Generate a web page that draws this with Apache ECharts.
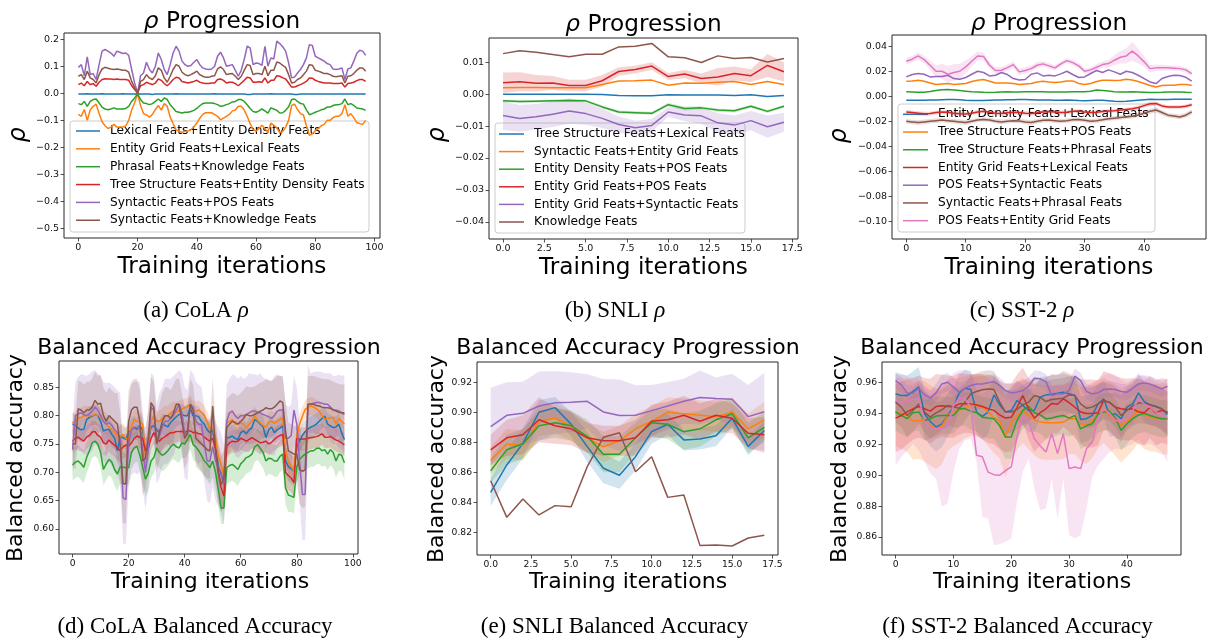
<!DOCTYPE html>
<html><head><meta charset="utf-8">
<script src="https://cdn.jsdelivr.net/npm/echarts@6/dist/echarts.min.js"></script>
<style>html,body{margin:0;padding:0;background:#fff}#c{width:1215px;height:641px}</style>
</head><body><div id="c"></div>
<script>
// ---------- categories / names ----------
const namesA = ['Lexical Feats+Entity Density Feats','Entity Grid Feats+Lexical Feats','Phrasal Feats+Knowledge Feats','Tree Structure Feats+Entity Density Feats','Syntactic Feats+POS Feats','Syntactic Feats+Knowledge Feats'];
const namesB = ['Tree Structure Feats+Lexical Feats','Syntactic Feats+Entity Grid Feats','Entity Density Feats+POS Feats','Entity Grid Feats+POS Feats','Entity Grid Feats+Syntactic Feats','Knowledge Feats'];
const namesC = ['Entity Density Feats+Lexical Feats','Tree Structure Feats+POS Feats','Tree Structure Feats+Phrasal Feats','Entity Grid Feats+Lexical Feats','POS Feats+Syntactic Feats','Syntactic Feats+Phrasal Feats','POS Feats+Entity Grid Feats'];

// ---------- tick labels ----------
const xTicksCoLA = [0,20,40,60,80,100];
const xTicksSNLI = [0,2.5,5,7.5,10,12.5,15,17.5];
const xTicksSST = [0,10,20,30,40];
const yTicksA = [-0.5,-0.4,-0.3,-0.2,-0.1,0,0.1,0.2];
const yTicksB = [-0.04,-0.03,-0.02,-0.01,0,0.01];
const yTicksC = [-0.10,-0.08,-0.06,-0.04,-0.02,0,0.02,0.04];
const yTicksD = [0.60,0.65,0.70,0.75,0.80,0.85];
const yTicksE = [0.82,0.84,0.86,0.88,0.90,0.92];
const yTicksF = [0.86,0.88,0.90,0.92,0.94,0.96];

// ---------- (a) CoLA rho ----------
const aBlue = [-0.003,-0.003,-0.003,-0.002,-0.003,-0.003,-0.003,-0.003,-0.002,-0.003,
-0.003,-0.003,-0.003,-0.003,-0.003,-0.002,-0.003,-0.003,-0.003,-0.003,
-0.002,-0.003,-0.003,-0.003,-0.003,-0.004,-0.003,-0.003,-0.003,-0.003,
-0.003,-0.003,-0.003,-0.002,-0.003,-0.003,-0.003,-0.003,-0.003,-0.003,
-0.003,-0.003,-0.003,-0.003,-0.003,-0.003,-0.002,-0.003,-0.003,-0.003,
-0.003,-0.003,-0.003,-0.003,-0.003,-0.003,-0.003,-0.004,-0.004,-0.003,
-0.003,-0.003,-0.003,-0.003,-0.003,-0.002,-0.003,-0.003,-0.003,-0.003,
-0.003,-0.003,-0.003,-0.004,-0.004,-0.003,-0.003,-0.003,-0.003,-0.003,
-0.003,-0.003,-0.003,-0.003,-0.003,-0.003,-0.003,-0.003,-0.003,-0.003,
-0.003,-0.003,-0.003,-0.003,-0.003,-0.003,-0.003,-0.003];
const aOrange = [-.078,-.085,-.060,-.100,-.062,-.048,-.040,-.075,-.105,-.120,
-.130,-.125,-.115,-.125,-.125,-.125,-.120,-.100,-.062,-.035,
-.002,-.045,-.075,-.080,-.088,-.078,-.060,-.045,-.062,-.038,
-.048,-.088,-.112,-.135,-.140,-.145,-.140,-.140,-.135,-.125,
-.110,-.092,-.078,-.072,-.072,-.072,-.078,-.085,-.098,-.092,
-.085,-.078,-.065,-.062,-.048,-.048,-.062,-.085,-.112,-.135,
-.140,-.130,-.118,-.130,-.145,-.110,-.118,-.128,-.145,-.142,
-.125,-.100,-.045,-.040,-.060,-.075,-.080,-.120,-.155,-.150,
-.138,-.130,-.120,-.115,-.100,-.100,-.090,-.085,-.085,-.075,
-.042,-.085,-.075,-.090,-.108,-.112,-.115,-.100];
const aGreen = [-.038,-.042,-.030,-.048,-.030,-.023,-.021,-.036,-.051,-.058,
-.061,-.058,-.054,-.058,-.058,-.058,-.056,-.048,-.030,-.017,
-.001,-.023,-.036,-.038,-.042,-.038,-.030,-.021,-.030,-.017,
-.023,-.042,-.054,-.067,-.070,-.073,-.070,-.070,-.067,-.063,
-.056,-.046,-.038,-.036,-.036,-.036,-.038,-.042,-.048,-.046,
-.042,-.038,-.032,-.030,-.023,-.023,-.030,-.042,-.056,-.067,
-.070,-.065,-.058,-.065,-.073,-.054,-.058,-.063,-.073,-.072,
-.063,-.050,-.023,-.021,-.030,-.038,-.040,-.061,-.079,-.075,
-.070,-.066,-.061,-.058,-.051,-.051,-.045,-.042,-.042,-.038,
-.021,-.042,-.038,-.045,-.054,-.056,-.058,-.063];
const aRed = [.032,.038,.028,.044,.032,.036,.026,.041,.051,.054,
.053,.053,.051,.053,.051,.051,.051,.048,.028,.014,
.001,.028,.032,.041,.036,.032,.038,.053,.048,.036,
.028,.038,.051,.059,.057,.044,.041,.038,.041,.044,
.048,.041,.038,.036,.036,.038,.038,.051,.053,.048,
.038,.041,.041,.036,.028,.038,.048,.059,.057,.041,
.041,.043,.041,.057,.038,.048,.048,.065,.063,.057,
.053,.038,.023,.023,.028,.032,.038,.044,.057,.056,
.048,.044,.041,.038,.038,.038,.036,.036,.036,.038,
.023,.036,.038,.041,.047,.051,.051,.044];
const aPurple = [.096,.106,.065,.135,.069,.073,.051,.106,.156,.162,
.156,.149,.137,.156,.152,.147,.149,.140,.088,.038,
.001,.065,.075,.115,.088,.075,.100,.149,.125,.088,
.069,.106,.149,.174,.156,.119,.106,.100,.103,.115,
.125,.106,.094,.090,.088,.090,.100,.137,.152,.131,
.100,.103,.106,.085,.063,.085,.125,.174,.168,.106,
.112,.110,.103,.174,.100,.131,.127,.193,.184,.172,
.156,.112,.057,.060,.075,.088,.106,.131,.180,.177,
.137,.131,.125,.119,.110,.106,.090,.088,.090,.094,
.051,.090,.094,.119,.147,.159,.156,.140];
const aBrown = [.063,.069,.051,.082,.057,.051,.038,.069,.090,.096,
.093,.090,.088,.090,.088,.085,.085,.078,.044,.020,
.001,.044,.051,.069,.057,.051,.065,.094,.085,.057,
.041,.063,.088,.106,.100,.078,.069,.065,.069,.075,
.082,.069,.063,.059,.059,.063,.065,.090,.098,.088,
.069,.072,.073,.063,.051,.063,.085,.106,.103,.069,
.073,.073,.069,.100,.065,.085,.085,.116,.112,.103,
.096,.069,.038,.041,.051,.057,.069,.082,.106,.104,
.085,.082,.078,.073,.073,.069,.063,.061,.063,.065,
.038,.063,.065,.073,.085,.094,.094,.082];

// ---------- (b) SNLI rho ----------
const bBlue = [0.0000,0.0000,0.0000,0.0000,0.0000,0.0000,-0.0001,-0.0004,-0.0005,-0.0005,-0.0002,-0.0003,-0.0003,-0.0003,-0.0004,-0.0002,-0.0007,-0.0004];
const bOrange = [0.0020,0.0021,0.0021,0.0020,0.0020,0.0020,0.0030,0.0041,0.0042,0.0044,0.0028,0.0035,0.0034,0.0037,0.0040,0.0030,0.0040,0.0030];
const bGreen = [-0.0021,-0.0023,-0.0022,-0.0021,-0.0020,-0.0021,-0.0040,-0.0056,-0.0058,-0.0060,-0.0033,-0.0045,-0.0043,-0.0050,-0.0052,-0.0038,-0.0054,-0.0038];
const bRed = [0.0036,0.0039,0.0034,0.0035,0.0027,0.0027,0.0042,0.0071,0.0077,0.0088,0.0055,0.0063,0.0049,0.0054,0.0065,0.0058,0.0090,0.0070];
const bPurple = [-0.0067,-0.0076,-0.0071,-0.0063,-0.0053,-0.0061,-0.0076,-0.0095,-0.0105,-0.0098,-0.0056,-0.0065,-0.0068,-0.0090,-0.0097,-0.0083,-0.0102,-0.0088];
const bBrown = [0.0127,0.0136,0.0131,0.0124,0.0117,0.0125,0.0125,0.0148,0.0150,0.0159,0.0117,0.0114,0.0099,0.0120,0.0112,0.0115,0.0101,0.0112];
const bGreenHalf = [0.0004,0.0004,0.0004,0.0004,0.0004,0.0004,0.0005,0.0005,0.0005,0.0005,0.0006,0.0006,0.0005,0.0005,0.0005,0.0005,0.0005,0.0005];
const bRedHalf = [0.0032,0.0030,0.0026,0.0022,0.0018,0.0018,0.0018,0.0013,0.0012,0.0012,0.0011,0.0013,0.0016,0.0028,0.0022,0.0020,0.0036,0.0030];
const bPurpleHalf = [0.0045,0.0042,0.0040,0.0040,0.0040,0.0035,0.0030,0.0025,0.0022,0.0020,0.0015,0.0020,0.0025,0.0030,0.0030,0.0030,0.0035,0.0030];

// ---------- (c) SST-2 rho ----------
const cBlue = [-0.0032,-0.0033,-0.0033,-0.0032,-0.0030,-0.0030,-0.0028,-0.0026,-0.0027,-0.0029,-0.0032,-0.0034,-0.0035,-0.0034,-0.0032,-0.0031,-0.0030,-0.0029,-0.0028,-0.0027,-0.0027,-0.0028,-0.0030,-0.0031,-0.0031,-0.0032,-0.0032,-0.0031,-0.0032,-0.0035,-0.0036,-0.0034,-0.0033,-0.0033,-0.0036,-0.0040,-0.0042,-0.0040,-0.0036,-0.0032,-0.0028,-0.0025,-0.0026,-0.0027,-0.0026,-0.0025,-0.0025,-0.0025,-0.0024];
const cOrange = [.0120,.0122,.0127,.0119,.0106,.0093,.0098,.0101,.0093,.0098,.0101,.0117,.0127,.0133,.0120,.0106,.0106,.0106,.0101,.0093,.0098,.0101,.0114,.0120,.0114,.0109,.0114,.0122,.0122,.0101,.0093,.0101,.0117,.0127,.0127,.0125,.0127,.0135,.0130,.0117,.0101,.0085,.0074,.0085,.0088,.0088,.0093,.0093,.0088];
const cGreen = [0.0035,0.0033,0.0031,0.0032,0.0037,0.0045,0.0052,0.0053,0.0050,0.0045,0.0040,0.0035,0.0033,0.0031,0.0030,0.0031,0.0033,0.0035,0.0034,0.0034,0.0035,0.0035,0.0036,0.0035,0.0034,0.0034,0.0033,0.0034,0.0035,0.0035,0.0036,0.0040,0.0050,0.0046,0.0042,0.0036,0.0034,0.0034,0.0035,0.0034,0.0032,0.0030,0.0030,0.0031,0.0033,0.0034,0.0033,0.0031,0.0030];
const cRed = [-0.0125,-0.0130,-0.0135,-0.0140,-0.0138,-0.0130,-0.0125,-0.0128,-0.0135,-0.0140,-0.0142,-0.0135,-0.0125,-0.0120,-0.0128,-0.0135,-0.0138,-0.0132,-0.0128,-0.0130,-0.0135,-0.0138,-0.0132,-0.0125,-0.0122,-0.0125,-0.0130,-0.0128,-0.0120,-0.0118,-0.0125,-0.0130,-0.0128,-0.0122,-0.0118,-0.0115,-0.0110,-0.0105,-0.0100,-0.0090,-0.0075,-0.0060,-0.0058,-0.0077,-0.0085,-0.0086,-0.0085,-0.0080,-0.0068];
const cPurple = [.0154,.0173,.0181,.0175,.0154,.0157,.0157,.0167,.0141,.0135,.0149,.0175,.0199,.0189,.0162,.0167,.0189,.0173,.0141,.0130,.0133,.0175,.0186,.0162,.0167,.0162,.0178,.0199,.0173,.0149,.0154,.0181,.0205,.0189,.0210,.0194,.0175,.0199,.0189,.0167,.0141,.0114,.0101,.0141,.0157,.0167,.0165,.0151,.0120];
const cBrown = [-0.0200,-0.0205,-0.0210,-0.0205,-0.0200,-0.0195,-0.0190,-0.0195,-0.0200,-0.0205,-0.0210,-0.0200,-0.0190,-0.0185,-0.0190,-0.0200,-0.0205,-0.0200,-0.0195,-0.0198,-0.0205,-0.0210,-0.0200,-0.0192,-0.0190,-0.0195,-0.0200,-0.0195,-0.0188,-0.0185,-0.0192,-0.0200,-0.0195,-0.0188,-0.0180,-0.0175,-0.0170,-0.0165,-0.0160,-0.0150,-0.0135,-0.0120,-0.0110,-0.0130,-0.0151,-0.0157,-0.0165,-0.0151,-0.0125];
const cPink = [.0279,.0295,.0321,.0292,.0247,.0199,.0199,.0175,.0189,.0199,.0234,.0279,.0321,.0316,.0247,.0205,.0207,.0228,.0252,.0194,.0205,.0220,.0247,.0258,.0242,.0226,.0258,.0284,.0268,.0242,.0199,.0210,.0231,.0252,.0260,.0287,.0311,.0321,.0359,.0321,.0274,.0220,.0226,.0226,.0226,.0223,.0220,.0210,.0181];
const cPinkHalf = [0.0025,0.0025,0.003,0.003,0.0035,0.0045,0.006,0.0065,0.0065,0.006,0.005,0.004,0.0035,0.003,0.0025,0.0025,0.0025,0.0025,0.0025,0.0025,0.0025,0.0025,0.0025,0.002,0.002,0.002,0.002,0.002,0.002,0.002,0.002,0.002,0.0025,0.0025,0.003,0.004,0.005,0.006,0.0075,0.006,0.004,0.003,0.0025,0.0025,0.002,0.002,0.002,0.002,0.002];
const cRedHalf = [0.0015,0.0015,0.0016,0.0016,0.0015,0.0015,0.0014,0.0015,0.0016,0.0016,0.0016,0.0015,0.0015,0.0014,0.0015,0.0016,0.0016,0.0015,0.0015,0.0015,0.0016,0.0016,0.0015,0.0015,0.0014,0.0015,0.0015,0.0015,0.0014,0.0014,0.0015,0.0015,0.0015,0.0014,0.0014,0.0014,0.0014,0.0014,0.0014,0.0015,0.0016,0.0017,0.0016,0.0015,0.0014,0.0014,0.0014,0.0015,0.0016];
const cBrownHalf = [0.0018,0.0018,0.0019,0.0019,0.0018,0.0018,0.0017,0.0018,0.0018,0.0019,0.0019,0.0018,0.0018,0.0017,0.0018,0.0018,0.0019,0.0018,0.0018,0.0018,0.0019,0.0019,0.0018,0.0018,0.0017,0.0018,0.0018,0.0018,0.0017,0.0017,0.0018,0.0018,0.0018,0.0017,0.0017,0.0017,0.0017,0.0017,0.0017,0.0018,0.0019,0.0020,0.0020,0.0019,0.0018,0.0018,0.0019,0.0019,0.0020];

// ---------- (d) CoLA balanced accuracy ----------
const dBlue = [.785,.783,.778,.775,.776,.793,.797,.799,.802,.800,
.790,.773,.775,.776,.767,.760,.738,.764,.761,.758,
.770,.776,.779,.776,.782,.775,.732,.755,.780,.782,
.775,.770,.785,.783,.780,.788,.793,.798,.802,.802,
.800,.800,.814,.800,.800,.798,.790,.785,.775,.770,
.775,.745,.710,.697,.679,.760,.762,.764,.760,.758,
.770,.773,.768,.775,.779,.793,.790,.785,.780,.761,
.775,.780,.770,.775,.778,.782,.720,.710,.706,.702,
.745,.755,.765,.772,.776,.780,.782,.785,.790,.795,
.799,.785,.782,.779,.780,.785,.770,.758];
const dOrange = [.787,.790,.795,.797,.800,.800,.800,.800,.802,.800,
.799,.790,.785,.780,.775,.770,.765,.762,.767,.760,
.758,.780,.793,.790,.789,.785,.729,.755,.790,.799,
.790,.790,.795,.800,.800,.805,.808,.806,.810,.812,
.814,.816,.820,.810,.808,.810,.805,.800,.790,.775,
.780,.760,.728,.714,.693,.787,.790,.793,.785,.785,
.787,.785,.778,.785,.790,.799,.792,.787,.782,.780,
.789,.790,.787,.790,.793,.796,.738,.720,.710,.702,
.765,.785,.799,.811,.815,.817,.815,.812,.808,.800,
.793,.795,.796,.797,.785,.795,.790,.785];
const dGreen = [.713,.718,.720,.715,.709,.726,.738,.752,.755,.750,
.735,.705,.715,.723,.718,.705,.697,.710,.709,.708,
.708,.735,.743,.746,.730,.710,.688,.698,.720,.726,
.743,.735,.730,.733,.738,.745,.750,.745,.743,.752,
.750,.758,.767,.749,.745,.738,.730,.720,.715,.708,
.720,.700,.670,.637,.637,.708,.712,.714,.710,.705,
.715,.720,.726,.728,.732,.745,.749,.742,.735,.720,
.725,.724,.720,.720,.728,.732,.673,.660,.658,.656,
.710,.723,.728,.732,.735,.738,.738,.742,.743,.738,
.740,.732,.740,.735,.720,.732,.730,.717];
const dRed = [.755,.760,.762,.758,.755,.762,.765,.771,.772,.765,
.762,.752,.750,.757,.752,.748,.743,.738,.745,.748,
.746,.752,.760,.764,.762,.760,.738,.742,.760,.770,
.758,.755,.760,.763,.767,.770,.770,.772,.772,.772,
.770,.773,.773,.770,.771,.768,.767,.762,.758,.755,
.760,.740,.700,.673,.658,.746,.752,.755,.754,.755,
.760,.758,.755,.758,.761,.758,.755,.752,.753,.755,
.750,.753,.758,.762,.765,.767,.700,.694,.690,.682,
.760,.758,.759,.759,.760,.761,.762,.763,.765,.768,
.762,.762,.763,.760,.757,.755,.752,.749];
const dPurple = [.740,.800,.803,.805,.802,.800,.803,.808,.815,.810,
.800,.790,.785,.788,.783,.775,.770,.760,.655,.652,
.750,.775,.780,.778,.780,.740,.700,.740,.815,.810,
.750,.765,.780,.790,.790,.795,.800,.810,.820,.805,
.770,.765,.820,.815,.790,.785,.785,.750,.720,.720,
.745,.720,.710,.700,.680,.790,.805,.808,.800,.795,
.800,.800,.802,.805,.808,.808,.806,.805,.802,.800,
.798,.795,.800,.808,.810,.810,.760,.760,.765,.810,
.785,.720,.661,.661,.820,.820,.822,.823,.823,.822,
.820,.820,.815,.810,.810,.808,.805,.802];
const dBrown = [.750,.750,.812,.810,.805,.810,.810,.815,.827,.820,
.822,.800,.790,.800,.795,.790,.785,.745,.680,.680,
.790,.810,.815,.815,.790,.720,.725,.760,.823,.815,
.750,.770,.790,.800,.800,.795,.805,.820,.820,.790,
.760,.770,.820,.810,.760,.755,.750,.745,.740,.738,
.817,.740,.700,.679,.690,.779,.785,.790,.788,.785,
.790,.795,.802,.800,.800,.802,.805,.808,.810,.814,
.812,.812,.815,.820,.826,.823,.773,.738,.735,.732,
.732,.705,.702,.704,.820,.820,.820,.818,.817,.815,
.814,.814,.813,.810,.808,.806,.805,.805];
const dBlueHalf = [.020,.020,.021,.022,.022,.020,.019,.018,.018,.019,
.020,.022,.022,.021,.022,.022,.025,.022,.020,.020,
.020,.020,.020,.020,.020,.021,.025,.022,.020,.019,
.020,.020,.019,.019,.019,.018,.018,.018,.018,.018,
.018,.018,.017,.018,.018,.018,.019,.020,.020,.021,
.022,.024,.026,.026,.026,.020,.020,.020,.020,.020,
.020,.020,.020,.020,.019,.018,.018,.018,.019,.020,
.020,.020,.020,.020,.020,.020,.025,.026,.026,.026,
.022,.021,.020,.020,.019,.019,.019,.019,.018,.018,
.018,.019,.019,.019,.019,.019,.020,.021];
const dOrangeHalf = [.018,.018,.018,.017,.017,.017,.017,.017,.017,.018,
.018,.019,.019,.019,.019,.020,.020,.020,.020,.020,
.020,.019,.018,.018,.018,.019,.022,.020,.018,.018,
.018,.018,.018,.017,.017,.017,.017,.017,.016,.016,
.016,.016,.016,.017,.017,.017,.018,.018,.019,.020,
.020,.022,.024,.024,.024,.018,.018,.018,.018,.018,
.018,.018,.018,.018,.018,.017,.017,.018,.018,.018,
.018,.018,.018,.018,.017,.017,.022,.024,.024,.024,
.020,.018,.017,.016,.016,.016,.016,.016,.017,.017,
.017,.017,.017,.017,.018,.018,.018,.018];
const dGreenHalf = [.028,.028,.028,.028,.028,.027,.027,.026,.026,.026,
.027,.028,.028,.028,.028,.029,.030,.030,.030,.030,
.029,.028,.028,.027,.028,.029,.030,.030,.029,.028,
.028,.028,.028,.028,.027,.027,.026,.026,.026,.026,
.026,.026,.026,.027,.027,.028,.028,.028,.029,.029,
.029,.030,.030,.028,.028,.029,.029,.029,.029,.029,
.029,.029,.028,.028,.028,.027,.027,.027,.028,.028,
.028,.028,.028,.028,.028,.028,.030,.030,.028,.028,
.028,.028,.028,.028,.028,.028,.028,.028,.028,.028,
.028,.028,.028,.028,.029,.029,.029,.030];
const dRedHalf = [.020,.020,.020,.020,.020,.020,.020,.019,.019,.020,
.020,.021,.021,.020,.021,.021,.022,.022,.021,.021,
.021,.021,.020,.020,.020,.020,.022,.022,.020,.020,
.021,.021,.020,.020,.020,.019,.019,.019,.019,.019,
.019,.019,.019,.019,.019,.019,.020,.020,.021,.021,
.021,.022,.024,.025,.025,.021,.020,.020,.020,.020,
.020,.020,.020,.020,.020,.020,.020,.020,.020,.020,
.020,.020,.020,.020,.020,.020,.024,.025,.025,.025,
.021,.020,.020,.020,.020,.020,.020,.020,.020,.019,
.019,.019,.019,.020,.020,.020,.020,.020];
const dPurpleHalf = [.045,.060,.065,.068,.070,.070,.070,.070,.065,.065,
.070,.070,.072,.070,.072,.075,.075,.080,.080,.080,
.075,.080,.080,.082,.080,.070,.065,.070,.060,.060,
.070,.075,.070,.075,.075,.070,.070,.065,.060,.070,
.080,.080,.060,.060,.070,.070,.065,.065,.070,.075,
.070,.070,.070,.070,.070,.065,.060,.065,.070,.070,
.070,.065,.065,.070,.065,.065,.065,.070,.065,.065,
.065,.065,.070,.065,.060,.060,.060,.055,.055,.060,
.065,.070,.080,.080,.070,.055,.055,.055,.055,.055,
.055,.055,.060,.060,.060,.065,.065,.070];
const dBrownHalf = [.040,.045,.050,.050,.050,.050,.050,.050,.050,.050,
.050,.050,.050,.050,.050,.050,.055,.060,.070,.070,
.055,.050,.050,.050,.055,.060,.055,.050,.045,.045,
.050,.050,.050,.050,.050,.050,.050,.045,.045,.050,
.055,.050,.045,.045,.050,.050,.050,.050,.050,.050,
.050,.050,.050,.050,.050,.050,.050,.050,.050,.050,
.050,.050,.050,.050,.050,.050,.050,.050,.050,.050,
.050,.050,.050,.050,.045,.045,.050,.050,.050,.050,
.050,.060,.065,.065,.050,.050,.050,.050,.050,.050,
.050,.050,.050,.050,.050,.050,.050,.050];

// ---------- (e) SNLI balanced accuracy ----------
const eBlue = [0.8467,0.8649,0.8793,0.9000,0.9031,0.8920,0.8771,0.8627,0.8580,0.8704,0.8871,0.8920,0.8816,0.8822,0.8844,0.8960,0.8773,0.8878];
const eOrange = [0.8678,0.8789,0.8778,0.8940,0.8960,0.8910,0.8830,0.8770,0.8810,0.8890,0.8940,0.9000,0.8990,0.8980,0.8970,0.9000,0.8890,0.8950];
const eGreen = [0.8610,0.8750,0.8790,0.8910,0.8930,0.8910,0.8840,0.8720,0.8720,0.8830,0.8930,0.8920,0.8870,0.8890,0.8950,0.8990,0.8830,0.8900];
const eRed = [0.8750,0.8830,0.8850,0.8950,0.8910,0.8890,0.8830,0.8810,0.8810,0.8830,0.8940,0.8950,0.8980,0.8940,0.8980,0.8960,0.8860,0.8850];
const ePurple = [0.8904,0.8980,0.8993,0.9042,0.9064,0.9067,0.9073,0.9002,0.8978,0.8980,0.9011,0.9042,0.9073,0.9098,0.9091,0.9087,0.8971,0.9004];
const eBrown = [0.8544,0.8300,0.8422,0.8316,0.8378,0.8371,0.8638,0.8833,0.8864,0.8604,0.8704,0.8433,0.8449,0.8113,0.8116,0.8109,0.8162,0.8180];
const eBlueHalf = [.009,.010,.010,.008,.007,.008,.010,.010,.009,.009,.008,.007,.007,.007,.007,.006,.006,.006];
const eOrangeHalf = [.009,.010,.010,.010,.010,.010,.010,.010,.010,.010,.010,.010,.010,.010,.010,.010,.010,.012];
const eGreenHalf = [.008,.010,.010,.010,.010,.010,.011,.012,.012,.010,.009,.010,.012,.012,.011,.010,.010,.010];
const eRedHalf = [.010,.012,.013,.015,.012,.011,.010,.010,.010,.012,.011,.012,.013,.012,.011,.010,.010,.012];
const ePurpleHalf = [.026,.022,.021,.023,.021,.020,.018,.022,.024,.020,.017,.016,.015,.018,.014,.017,.021,.026];

// ---------- (f) SST-2 balanced accuracy ----------
const fBlue = [.9527,.9516,.9516,.9542,.9570,.9398,.9348,.9312,.9333,.9387,.9441,.9533,.9563,.9555,.9409,.9381,.9409,.9520,.9456,.9409,.9419,.9484,.9452,.9419,.9421,.9505,.9520,.9525,.9531,.9538,.9527,.9516,.9361,.9366,.9387,.9462,.9495,.9387,.9398,.9366,.9441,.9462,.9533,.9477,.9456,.9445,.9430,.9394];
const fOrange = [.9410,.9400,.9390,.9350,.9355,.9350,.9323,.9300,.9320,.9387,.9410,.9420,.9441,.9452,.9452,.9441,.9410,.9375,.9350,.9247,.9344,.9387,.9420,.9387,.9360,.9344,.9340,.9340,.9340,.9344,.9366,.9366,.9333,.9323,.9350,.9395,.9420,.9390,.9355,.9323,.9350,.9380,.9420,.9390,.9376,.9370,.9366,.9366];
const fGreen = [.9410,.9387,.9366,.9405,.9410,.9355,.9366,.9383,.9387,.9387,.9387,.9430,.9430,.9415,.9405,.9376,.9370,.9366,.9320,.9247,.9247,.9355,.9420,.9447,.9405,.9390,.9366,.9370,.9380,.9387,.9370,.9387,.9300,.9320,.9333,.9395,.9410,.9415,.9370,.9290,.9333,.9366,.9390,.9400,.9387,.9376,.9366,.9366];
const fRed = [.9370,.9387,.9410,.9430,.9445,.9430,.9415,.9445,.9450,.9445,.9443,.9462,.9465,.9462,.9455,.9445,.9430,.9420,.9390,.9370,.9375,.9440,.9516,.9430,.9370,.9405,.9430,.9465,.9460,.9495,.9470,.9440,.9410,.9400,.9400,.9405,.9485,.9470,.9440,.9430,.9425,.9430,.9410,.9405,.9440,.9405,.9420,.9410];
const fPurple = [.9613,.9585,.9533,.9531,.9563,.9520,.9499,.9533,.9591,.9602,.9570,.9538,.9563,.9581,.9590,.9591,.9598,.9606,.9581,.9548,.9533,.9538,.9548,.9576,.9628,.9624,.9606,.9516,.9527,.9527,.9548,.9641,.9613,.9542,.9527,.9533,.9555,.9559,.9555,.9542,.9538,.9563,.9591,.9598,.9590,.9576,.9559,.9576];
const fBrown = [.9473,.9441,.9387,.9419,.9462,.9409,.9376,.9404,.9424,.9452,.9443,.9434,.9473,.9527,.9542,.9553,.9559,.9555,.9473,.9409,.9409,.9426,.9456,.9473,.9516,.9505,.9477,.9490,.9495,.9499,.9520,.9516,.9462,.9434,.9441,.9462,.9482,.9473,.9441,.9387,.9419,.9447,.9469,.9464,.9456,.9445,.9430,.9404];
const fPink = [.9484,.9470,.9484,.9490,.9495,.9350,.9310,.9300,.9300,.9312,.9450,.9500,.9495,.9440,.9129,.9120,.9020,.9004,.9000,.9030,.9054,.9250,.9387,.9350,.9237,.9190,.9151,.9270,.9140,.9270,.9043,.9054,.9043,.9172,.9215,.9366,.9430,.9400,.9355,.9350,.9360,.9420,.9495,.9460,.9440,.9410,.9390,.9370];
const fPinkLo = [.9064,.9118,.9161,.9204,.9161,.9086,.9011,.8978,.8796,.8817,.9021,.9172,.9226,.9237,.9086,.8731,.8720,.8548,.8553,.8570,.8591,.8828,.9021,.9108,.8914,.8774,.8785,.8978,.8720,.8978,.8613,.8591,.8613,.8785,.8989,.9064,.9108,.9151,.9172,.9168,.9183,.9204,.9232,.9194,.9204,.9183,.9151,.9086];
const fPinkHi = [.965,.965,.964,.963,.962,.958,.955,.955,.958,.962,.966,.968,.968,.966,.962,.958,.955,.953,.952,.952,.955,.960,.962,.960,.958,.957,.955,.958,.958,.958,.955,.955,.956,.958,.960,.962,.965,.966,.965,.962,.960,.962,.966,.964,.962,.960,.958,.956];
const fBlueHalf = [.014,.014,.013,.013,.013,.015,.016,.016,.015,.014,.013,.012,.012,.012,.014,.015,.014,.012,.013,.014,.014,.013,.013,.014,.014,.013,.012,.012,.012,.012,.012,.012,.015,.015,.014,.013,.012,.014,.014,.015,.013,.013,.012,.013,.013,.013,.014,.014];
const fOrangeHalf = [.022,.023,.024,.025,.025,.026,.026,.026,.025,.023,.022,.021,.020,.020,.020,.021,.022,.023,.024,.026,.024,.022,.021,.022,.023,.024,.024,.024,.024,.024,.023,.023,.024,.025,.024,.022,.021,.022,.023,.024,.023,.022,.021,.022,.022,.022,.023,.023];
const fGreenHalf = [.012,.012,.012,.012,.012,.013,.013,.013,.012,.012,.012,.011,.011,.012,.012,.013,.013,.013,.014,.014,.014,.013,.012,.011,.012,.012,.013,.013,.012,.012,.012,.012,.013,.013,.013,.012,.012,.012,.012,.013,.013,.012,.012,.012,.012,.012,.012,.012];
const fRedHalf = [.022,.022,.021,.020,.020,.020,.021,.021,.020,.020,.020,.020,.019,.019,.020,.021,.022,.022,.022,.022,.022,.021,.018,.020,.022,.021,.020,.019,.019,.018,.019,.020,.021,.022,.022,.021,.019,.019,.020,.020,.020,.020,.021,.021,.020,.021,.021,.021];
const fPurpleHalf = [.005,.005,.005,.005,.005,.005,.005,.006,.006,.006,.006,.006,.005,.005,.005,.005,.005,.005,.005,.005,.006,.006,.006,.006,.005,.005,.005,.006,.006,.006,.006,.005,.005,.005,.005,.005,.005,.005,.005,.005,.005,.005,.005,.005,.005,.005,.005,.005];
const fBrownHalf = [.013,.013,.014,.014,.013,.013,.014,.014,.013,.013,.013,.013,.012,.012,.012,.012,.012,.012,.013,.014,.014,.013,.013,.013,.012,.012,.013,.013,.013,.013,.012,.012,.013,.013,.013,.013,.012,.012,.013,.014,.013,.013,.013,.013,.013,.013,.013,.014];

// ---------- helpers ----------
function seq(n){const a=[];for(let i=0;i<n;i++)a.push(i);return a;}
const itA=seq(98), itB=seq(18), itC=seq(49), itD=seq(98), itE=seq(18), itF=seq(48);
const COL={blue:'#1f77b4',orange:'#ff7f0e',green:'#2ca02c',red:'#d62728',purple:'#9467bd',brown:'#8c564b',pink:'#e377c2'};
const FONT='DejaVu Sans';
const series=[];
function addLine(gi,name,color,xs,ys){
  series.push({type:'line',name:name,xAxisIndex:gi,yAxisIndex:gi,data:ys.map((v,i)=>[xs[i],v]),
    showSymbol:false,symbol:'none',lineStyle:{color:color,width:1.5},itemStyle:{color:color},
    animation:false,silent:true,z:2});
}
function addBand(gi,color,xs,lo,hi,op){
  const data=lo.map((v,i)=>[xs[i],v,hi[i]]);
  series.push({type:'custom',xAxisIndex:gi,yAxisIndex:gi,data:data,clip:true,silent:true,animation:false,z:2,
    encode:{x:0,y:[1,2]},
    renderItem:function(params,api){
      if(params.dataIndex!==0) return null;
      const top=data.map(d=>api.coord([d[0],d[2]]));
      const bot=data.map(d=>api.coord([d[0],d[1]])).reverse();
      return {type:'polygon',shape:{points:top.concat(bot)},style:{fill:color,opacity:op==null?0.2:op}};
    }});
}
const sub=(ys,h)=>ys.map((v,i)=>v-h[i]);
const add=(ys,h)=>ys.map((v,i)=>v+h[i]);
function lineBand(gi,name,color,xs,ys,h){addLine(gi,name,color,xs,ys);addBand(gi,color,xs,sub(ys,h),add(ys,h));}

// (a)
addLine(0,namesA[0],COL.blue,itA,aBlue);
addLine(0,namesA[1],COL.orange,itA,aOrange);
addLine(0,namesA[2],COL.green,itA,aGreen);
addLine(0,namesA[3],COL.red,itA,aRed);
addLine(0,namesA[4],COL.purple,itA,aPurple);
addLine(0,namesA[5],COL.brown,itA,aBrown);
// (b)
addLine(1,namesB[0],COL.blue,itB,bBlue);
addLine(1,namesB[1],COL.orange,itB,bOrange);
lineBand(1,namesB[2],COL.green,itB,bGreen,bGreenHalf);
lineBand(1,namesB[3],COL.red,itB,bRed,bRedHalf);
lineBand(1,namesB[4],COL.purple,itB,bPurple,bPurpleHalf);
addLine(1,namesB[5],COL.brown,itB,bBrown);
// (c)
addLine(2,namesC[0],COL.blue,itC,cBlue);
addLine(2,namesC[1],COL.orange,itC,cOrange);
addLine(2,namesC[2],COL.green,itC,cGreen);
lineBand(2,namesC[3],COL.red,itC,cRed,cRedHalf);
addLine(2,namesC[4],COL.purple,itC,cPurple);
lineBand(2,namesC[5],COL.brown,itC,cBrown,cBrownHalf);
lineBand(2,namesC[6],COL.pink,itC,cPink,cPinkHalf);
// (d)
lineBand(3,namesA[0],COL.blue,itD,dBlue,dBlueHalf);
lineBand(3,namesA[1],COL.orange,itD,dOrange,dOrangeHalf);
lineBand(3,namesA[2],COL.green,itD,dGreen,dGreenHalf);
lineBand(3,namesA[3],COL.red,itD,dRed,dRedHalf);
lineBand(3,namesA[4],COL.purple,itD,dPurple,dPurpleHalf);
lineBand(3,namesA[5],COL.brown,itD,dBrown,dBrownHalf);
// (e)
lineBand(4,namesB[0],COL.blue,itE,eBlue,eBlueHalf);
lineBand(4,namesB[1],COL.orange,itE,eOrange,eOrangeHalf);
lineBand(4,namesB[2],COL.green,itE,eGreen,eGreenHalf);
lineBand(4,namesB[3],COL.red,itE,eRed,eRedHalf);
lineBand(4,namesB[4],COL.purple,itE,ePurple,ePurpleHalf);
addLine(4,namesB[5],COL.brown,itE,eBrown);
// (f)
lineBand(5,namesC[0],COL.blue,itF,fBlue,fBlueHalf);
lineBand(5,namesC[1],COL.orange,itF,fOrange,fOrangeHalf);
lineBand(5,namesC[2],COL.green,itF,fGreen,fGreenHalf);
lineBand(5,namesC[3],COL.red,itF,fRed,fRedHalf);
lineBand(5,namesC[4],COL.purple,itF,fPurple,fPurpleHalf);
lineBand(5,namesC[5],COL.brown,itF,fBrown,fBrownHalf);
addLine(5,namesC[6],COL.pink,itF,fPink);
addBand(5,COL.pink,itF,fPinkLo,fPinkHi);

// ---------- layout ----------
const gridBoxes=[
 {left:64,top:33,width:316,height:205},
 {left:489,top:38,width:309,height:201},
 {left:892,top:35,width:314,height:204},
 {left:59,top:361,width:299,height:193},
 {left:477,top:362,width:301,height:193},
 {left:882,top:362,width:299,height:193}];
const xRange=[[-4.85,101.85],[-0.85,17.85],[-2.4,50.4],[-4.85,101.85],[-0.85,17.85],[-2.35,49.35]];
const yRange=[[-0.535,0.223],[-0.0454,0.0176],[-0.1138,0.0488],[0.5559,0.8964],[0.8049,0.9335],[0.8484,0.9733]];
const xT=[xTicksCoLA,xTicksSNLI,xTicksSST,xTicksCoLA,xTicksSNLI,xTicksSST];
const yT=[yTicksA,yTicksB,yTicksC,yTicksD,yTicksE,yTicksF];
const xDec=[0,1,0,0,1,0], yDec=[1,2,2,2,2,2];
const tfs=[9.5,9.5,9.5,9.2,9.2,9.2];
function fmt(v,d){let s=(Math.abs(v)<1e-12?0:v).toFixed(d);return s.replace('-','\u2212');}
const grid=gridBoxes.map(g=>Object.assign({show:true,borderColor:'#262626',borderWidth:1,backgroundColor:'rgba(0,0,0,0)'},g));
const xAxis=[],yAxis=[];
for(let i=0;i<6;i++){
  xAxis.push({type:'value',gridIndex:i,position:'bottom',min:xRange[i][0],max:xRange[i][1],axisLine:{show:false,onZero:false},splitLine:{show:false},
    axisTick:{show:true,customValues:xT[i],length:3.5,lineStyle:{color:'#262626',width:0.8}},
    axisLabel:{customValues:xT[i],formatter:(v)=>fmt(v,xDec[i]),fontSize:tfs[i],color:'#111',fontFamily:FONT,margin:5}});
  yAxis.push({type:'value',gridIndex:i,position:'left',min:yRange[i][0],max:yRange[i][1],axisLine:{show:false,onZero:false},splitLine:{show:false},
    axisTick:{show:true,customValues:yT[i],length:3.5,lineStyle:{color:'#262626',width:0.8}},
    axisLabel:{customValues:yT[i],formatter:(v)=>fmt(v,yDec[i]),fontSize:tfs[i],color:'#111',fontFamily:FONT,margin:5}});
}

// ---------- texts ----------
const graphic=[];
function rt(x,y,parts,fs,fam,rot){
  const rich={n:{fontSize:fs,fontFamily:fam,fill:'#000'},i:{fontSize:fs,fontFamily:fam,fontStyle:'italic',fill:'#000'}};
  graphic.push({type:'text',x:x,y:y,rotation:rot||0,z:100,silent:true,
    style:{text:parts,rich:rich,fontSize:fs,fontFamily:fam,fill:'#000',align:'center',verticalAlign:'middle',textAlign:'center',textVerticalAlign:'middle'}});
}
// titles
rt(222,22,'{i|\u03c1}{n| Progression}',23.2,FONT);
rt(643.5,25,'{i|\u03c1}{n| Progression}',23.2,FONT);
rt(1049,24,'{i|\u03c1}{n| Progression}',23.2,FONT);
rt(209,348,'{n|Balanced Accuracy Progression}',22,FONT);
rt(628,348,'{n|Balanced Accuracy Progression}',22,FONT);
rt(1032,348,'{n|Balanced Accuracy Progression}',22,FONT);
// x labels
rt(222,267,'{n|Training iterations}',23.2,FONT);
rt(643.5,268,'{n|Training iterations}',23.2,FONT);
rt(1049,268,'{n|Training iterations}',23.2,FONT);
rt(210,582,'{n|Training iterations}',22,FONT);
rt(628,582,'{n|Training iterations}',22,FONT);
rt(1032,582,'{n|Training iterations}',22,FONT);
// y labels
rt(18.5,135,'{i|\u03c1}',24,FONT,Math.PI/2);
rt(437.5,135,'{i|\u03c1}',24,FONT,Math.PI/2);
rt(840,136,'{i|\u03c1}',24,FONT,Math.PI/2);
rt(16.5,458,'{n|Balanced accuracy}',22,FONT,Math.PI/2);
rt(437,459,'{n|Balanced accuracy}',22,FONT,Math.PI/2);
rt(840.5,459,'{n|Balanced accuracy}',22,FONT,Math.PI/2);
// captions
const SERIF='Liberation Serif';
rt(196,311,'{n|(a) CoLA }{i|\u03c1}',23,SERIF);
rt(615,311,'{n|(b) SNLI }{i|\u03c1}',23,SERIF);
rt(1022,311,'{n|(c) SST-2 }{i|\u03c1}',23,SERIF);
rt(195,627,'{n|(d) CoLA Balanced Accuracy}',23,SERIF);
rt(614.5,627,'{n|(e) SNLI Balanced Accuracy}',23,SERIF);
rt(1017.5,627,'{n|(f) SST-2 Balanced Accuracy}',23,SERIF);

// legends
function legend(box,y0,dy,lx0,lx1,tx,names,colors){
  const ch=[{type:'rect',shape:{x:box[0],y:box[1],width:box[2],height:box[3],r:3},style:{fill:'rgba(255,255,255,0.8)',stroke:'#cccccc',lineWidth:1}}];
  names.forEach((nm,k)=>{
    const y=y0+dy*k;
    ch.push({type:'line',shape:{x1:lx0,y1:y,x2:lx1,y2:y},style:{stroke:colors[k],lineWidth:1.5}});
    ch.push({type:'text',x:tx,y:y,style:{text:nm,fontSize:12.2,fontFamily:FONT,fill:'#000',align:'left',verticalAlign:'middle',textAlign:'left',textVerticalAlign:'middle'}});
  });
  graphic.push({type:'group',z:100,silent:true,children:ch});
}
const c6=[COL.blue,COL.orange,COL.green,COL.red,COL.purple,COL.brown];
legend([70,121,299,111],131,17.85,76,100,110,namesA,c6);
legend([495,123,250,110],134,17.6,499,524,534,namesB,c6);
legend([898,104,257,128],114.3,17.73,903,928,938,namesC,c6.concat([COL.pink]));

const chart=echarts.init(document.getElementById('c'),null,{renderer:'canvas'});
chart.setOption({animation:false,backgroundColor:'#fff',grid:grid,xAxis:xAxis,yAxis:yAxis,series:series,graphic:graphic});
</script></body></html>
